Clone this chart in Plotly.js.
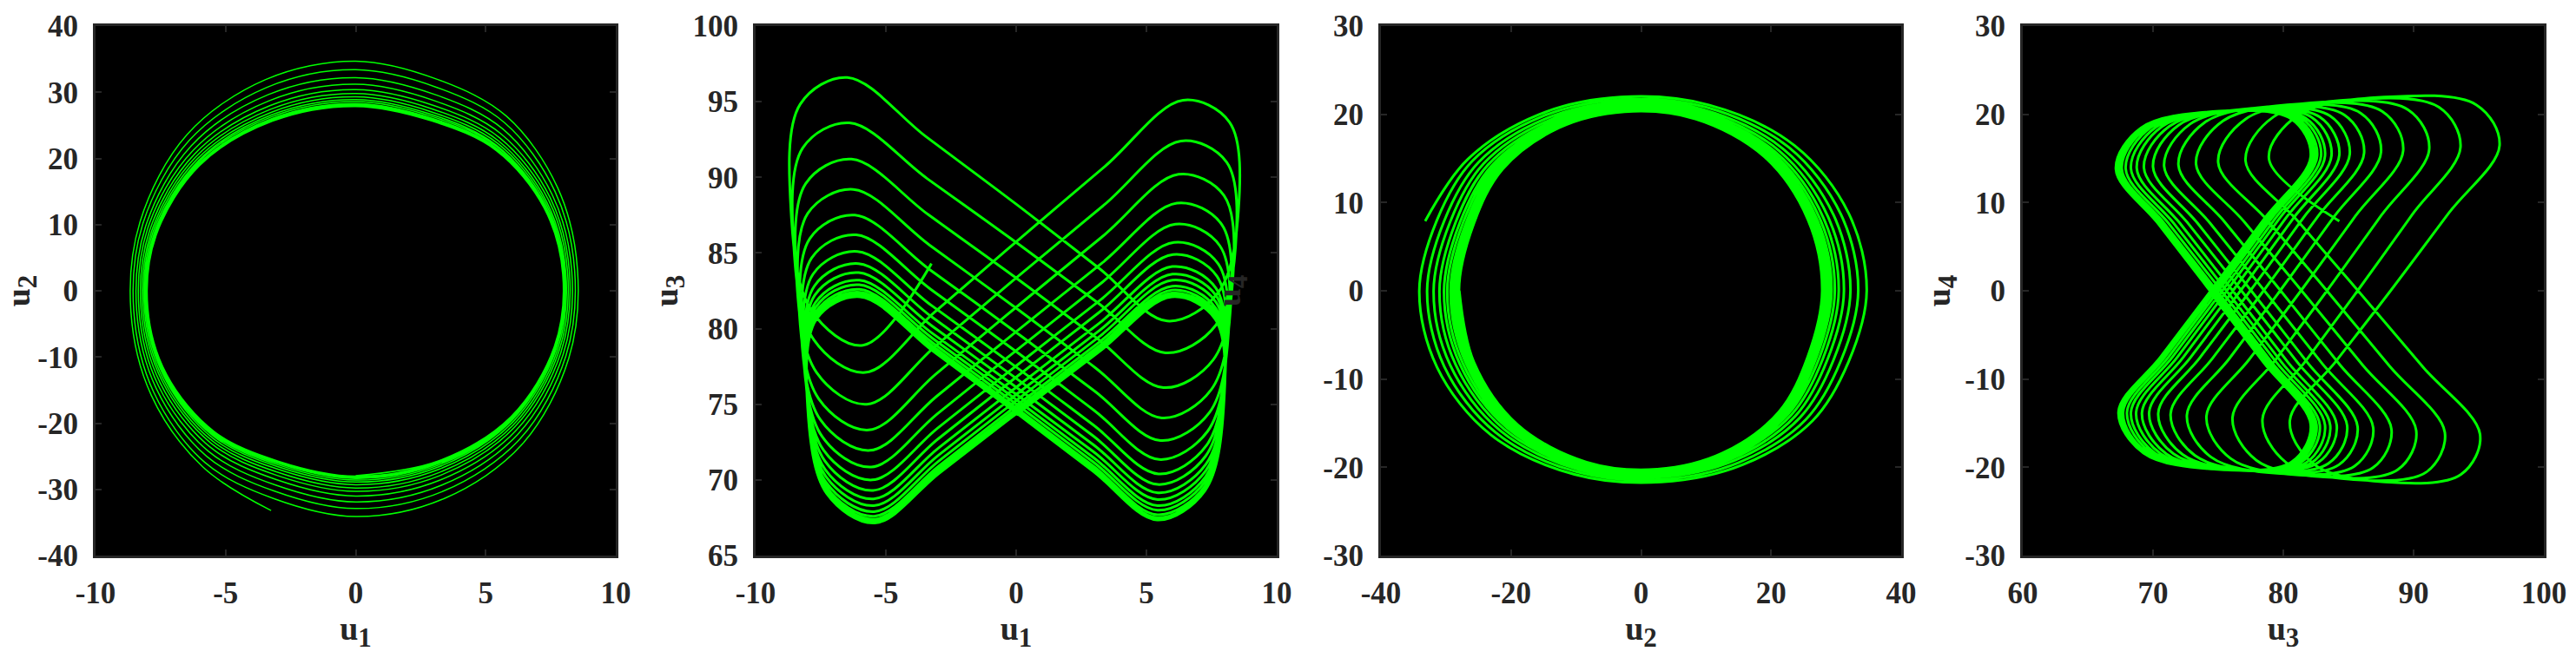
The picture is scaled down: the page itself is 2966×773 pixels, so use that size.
<!DOCTYPE html>
<html>
<head>
<meta charset="utf-8">
<script src="https://cdn.plot.ly/plotly-3.0.1.min.js"></script>
<style>
  html, body { margin: 0; padding: 0; background: #fff; }
  #chart { width: 2966px; height: 773px; }
</style>
</head>
<body>
<div id="chart"></div>
<script>
// trajectory samples read off the four phase portraits (same time order in every array,
// one row per half-turn of the orbit)
const u1 = [-3.25,
  -5.88, -7.86, -8.64, -8.29, -6.48, -3.46, 0, 3.16,
  5.80, 7.76, 8.53, 8.19, 6.40, 3.41, 0, -3.16,
  -5.80, -7.76, -8.53, -8.19, -6.40, -3.41, 0, 3.12,
  5.73, 7.66, 8.42, 8.08, 6.32, 3.37, 0, -3.12,
  -5.73, -7.66, -8.42, -8.08, -6.32, -3.37, 0, 3.07,
  5.65, 7.56, 8.31, 7.98, 6.23, 3.32, 0, -3.08,
  -5.66, -7.58, -8.33, -8.00, -6.25, -3.33, 0, 3.04,
  5.59, 7.48, 8.22, 7.89, 6.17, 3.29, 0, -3.05,
  -5.61, -7.51, -8.25, -7.92, -6.19, -3.30, 0, 3.02,
  5.54, 7.42, 8.15, 7.82, 6.11, 3.26, 0, -3.03,
  -5.56, -7.44, -8.18, -7.85, -6.14, -3.27, 0, 2.99,
  5.49, 7.35, 8.08, 7.76, 6.06, 3.23, 0, -3.00,
  -5.52, -7.39, -8.12, -7.80, -6.09, -3.25, 0, 2.97,
  5.46, 7.31, 8.03, 7.71, 6.02, 3.21, 0, -2.99,
  -5.49, -7.34, -8.07, -7.75, -6.05, -3.23, 0, 2.96,
  5.43, 7.27, 7.99, 7.67, 5.99, 3.20, 0, -2.98,
  -5.47, -7.33, -8.05, -7.73, -6.04, -3.22, 0, 2.96,
  5.44, 7.28, 8.00, 7.68, 6.00, 3.20, 0, -2.97,
  -5.46, -7.31, -8.03, -7.71, -6.02, -3.21, 0, 2.96,
  5.43, 7.27, 7.99, 7.67, 5.99, 3.20, 0, -2.97,
  -5.45, -7.30, -8.02, -7.70, -6.02, -3.21, 0, 2.95,
  5.43, 7.26, 7.98, 7.66, 5.99, 3.19, 0, -2.96,
  -5.45, -7.29, -8.01, -7.69, -6.01, -3.20, 0, 2.95,
  5.42, 7.25, 7.97, 7.65, 5.98, 3.19, 0, -2.96,
  -5.44, -7.28, -8.00, -7.68, -6.00, -3.20, 0, 2.95,
  5.42, 7.25, 7.97, 7.65, 5.98, 3.19, 0, -2.96,
  -5.44, -7.28, -8.00, -7.68, -6.00, -3.20, 0, 2.95,
  5.41, 7.24, 7.96, 7.64, 5.97, 3.18, 0, -2.96,
  -5.43, -7.27, -7.99, -7.67, -5.99, -3.20, 0, 2.95,
  5.41, 7.24, 7.96, 7.64, 5.97, 3.18, 0];

const u2 = [-33.2,
  -26.60, -15.75, -3.15, 10.41, 23.60, 31.92, 34.70, 31.92,
  26.37, 15.62, 3.12, -10.23, -23.19, -31.37, -34.10, -31.37,
  -25.92, -15.35, -3.07, 10.02, 22.71, 30.73, 33.40, 30.73,
  25.38, 15.03, 3.01, -9.87, -22.37, -30.27, -32.90, -30.27,
  -25.00, -14.81, -2.96, 9.66, 21.90, 29.62, 32.20, 29.62,
  24.47, 14.49, 2.90, -9.57, -21.69, -29.35, -31.90, -29.35,
  -24.24, -14.36, -2.87, 9.36, 21.22, 28.70, 31.20, 28.70,
  23.71, 14.04, 2.81, -9.30, -21.08, -28.52, -31.00, -28.52,
  -23.56, -13.95, -2.79, 9.12, 20.67, 27.97, 30.40, 27.97,
  23.10, 13.68, 2.74, -9.09, -20.60, -27.88, -30.30, -27.88,
  -23.03, -13.64, -2.73, 8.94, 20.26, 27.42, 29.80, 27.42,
  22.65, 13.41, 2.68, -8.94, -20.26, -27.42, -29.80, -27.42,
  -22.65, -13.41, -2.68, 8.79, 19.92, 26.96, 29.30, 26.96,
  22.27, 13.19, 2.64, -8.79, -19.92, -26.96, -29.30, -26.96,
  -22.27, -13.19, -2.64, 8.67, 19.65, 26.59, 28.90, 26.59,
  21.96, 13.01, 2.60, -8.67, -19.65, -26.59, -28.90, -26.59,
  -21.96, -13.01, -2.60, 8.58, 19.45, 26.31, 28.60, 26.31,
  21.74, 12.87, 2.57, -8.58, -19.45, -26.31, -28.60, -26.31,
  -21.74, -12.87, -2.57, 8.49, 19.24, 26.04, 28.30, 26.04,
  21.51, 12.74, 2.55, -8.51, -19.28, -26.08, -28.35, -26.08,
  -21.55, -12.76, -2.55, 8.43, 19.11, 25.85, 28.10, 25.85,
  21.36, 12.65, 2.53, -8.46, -19.18, -25.94, -28.20, -25.94,
  -21.43, -12.69, -2.54, 8.40, 19.04, 25.76, 28.00, 25.76,
  21.28, 12.60, 2.52, -8.43, -19.11, -25.85, -28.10, -25.85,
  -21.36, -12.65, -2.53, 8.39, 19.01, 25.71, 27.95, 25.71,
  21.24, 12.58, 2.52, -8.42, -19.07, -25.81, -28.05, -25.81,
  -21.32, -12.62, -2.52, 8.37, 18.97, 25.67, 27.90, 25.67,
  21.20, 12.56, 2.51, -8.40, -19.04, -25.76, -28.00, -25.76,
  -21.28, -12.60, -2.52, 8.36, 18.94, 25.62, 27.85, 25.62,
  21.17, 12.53, 2.51, -8.39, -19.01, -25.71, -27.95];

const u3 = [84.3,
  78.9, 81.2, 87.75, 94.83, 96.6, 92.69, 88.23, 84.02,
  80.5, 82.4, 87.8, 93.64, 95.1, 90.73, 85.74, 81.04,
  77.1, 79.25, 85.35, 91.95, 93.6, 89.91, 85.7, 81.73,
  78.4, 80.22, 85.4, 91.0, 92.4, 88.17, 83.35, 78.81,
  75.0, 77.1, 83.1, 89.58, 91.2, 87.53, 83.35, 79.41,
  76.1, 77.93, 83.15, 88.79, 90.2, 86.1, 81.41, 77.0,
  73.3, 75.37, 81.25, 87.61, 89.2, 85.53, 81.35, 77.41,
  74.1, 75.95, 81.2, 86.88, 88.3, 84.33, 79.8, 75.53,
  71.95, 73.97, 79.73, 85.95, 87.5, 83.88, 79.75, 75.86,
  72.6, 74.46, 79.75, 85.47, 86.9, 83.0, 78.55, 74.36,
  70.85, 72.85, 78.53, 84.67, 86.2, 82.59, 78.48, 74.6,
  71.35, 73.22, 78.53, 84.27, 85.7, 81.89, 77.54, 73.44,
  70.0, 71.96, 77.55, 83.59, 85.1, 81.53, 77.46, 73.62,
  70.4, 72.29, 77.65, 83.45, 84.9, 81.11, 76.79, 72.72,
  69.3, 71.25, 76.8, 82.8, 84.3, 80.76, 76.71, 72.9,
  69.7, 71.57, 76.9, 82.66, 84.1, 80.37, 76.12, 72.11,
  68.75, 70.69, 76.23, 82.21, 83.7, 80.16, 76.13, 72.33,
  69.15, 71.03, 76.38, 82.16, 83.6, 79.88, 75.64, 71.65,
  68.3, 70.24, 75.75, 81.71, 83.2, 79.68, 75.66, 71.87,
  68.7, 70.59, 75.95, 81.75, 83.2, 79.48, 75.24, 71.25,
  67.9, 69.85, 75.4, 81.4, 82.9, 79.36, 75.31, 71.5,
  68.3, 70.19, 75.55, 81.35, 82.8, 79.11, 74.9, 70.93,
  67.6, 69.55, 75.1, 81.1, 82.6, 79.06, 75.01, 71.2,
  68.0, 69.89, 75.28, 81.1, 82.55, 78.87, 74.67, 70.72,
  67.4, 69.35, 74.9, 80.9, 82.4, 78.83, 74.76, 70.92,
  67.7, 69.6, 75.03, 80.89, 82.35, 78.68, 74.5, 70.56,
  67.25, 69.2, 74.75, 80.75, 82.25, 78.67, 74.58, 70.73,
  67.5, 69.41, 74.85, 80.73, 82.2, 78.54, 74.37, 70.44,
  67.15, 69.09, 74.63, 80.61, 82.1, 78.52, 74.43, 70.58,
  67.35, 69.27, 74.73, 80.63, 82.1, 78.46, 74.3];

const u4 = [7.9,
  14.94, 19.96, 21.95, 21.06, 16.46, 8.79, 0, -8.03,
  -14.73, -19.71, -21.67, -20.80, -16.26, -8.66, 0, 8.03,
  14.73, 19.71, 21.67, 20.80, 16.26, 8.66, 0, -7.92,
  -14.55, -19.46, -21.39, -20.52, -16.05, -8.56, 0, 7.92,
  14.55, 19.46, 21.39, 20.52, 16.05, 8.56, 0, -7.80,
  -14.35, -19.20, -21.11, -20.27, -15.82, -8.43, 0, 7.82,
  14.38, 19.25, 21.16, 20.32, 15.88, 8.46, 0, -7.72,
  -14.20, -19.00, -20.88, -20.04, -15.67, -8.36, 0, 7.75,
  14.25, 19.08, 20.96, 20.12, 15.72, 8.38, 0, -7.67,
  -14.07, -18.85, -20.70, -19.86, -15.52, -8.28, 0, 7.70,
  14.12, 18.90, 20.78, 19.94, 15.60, 8.31, 0, -7.59,
  -13.94, -18.67, -20.52, -19.71, -15.39, -8.20, 0, 7.62,
  14.02, 18.77, 20.62, 19.81, 15.47, 8.26, 0, -7.54,
  -13.87, -18.57, -20.40, -19.58, -15.29, -8.15, 0, 7.59,
  13.94, 18.64, 20.50, 19.69, 15.37, 8.20, 0, -7.52,
  -13.79, -18.47, -20.29, -19.48, -15.21, -8.13, 0, 7.57,
  13.89, 18.62, 20.45, 19.63, 15.34, 8.18, 0, -7.52,
  -13.82, -18.49, -20.32, -19.51, -15.24, -8.13, 0, 7.54,
  13.87, 18.57, 20.40, 19.58, 15.29, 8.15, 0, -7.52,
  -13.79, -18.47, -20.29, -19.48, -15.21, -8.13, 0, 7.54,
  13.84, 18.54, 20.37, 19.56, 15.29, 8.15, 0, -7.49,
  -13.79, -18.44, -20.27, -19.46, -15.21, -8.10, 0, 7.52,
  13.84, 18.52, 20.35, 19.53, 15.27, 8.13, 0, -7.49,
  -13.77, -18.42, -20.24, -19.43, -15.19, -8.10, 0, 7.52,
  13.82, 18.49, 20.32, 19.51, 15.24, 8.13, 0, -7.49,
  -13.77, -18.42, -20.24, -19.43, -15.19, -8.10, 0, 7.52,
  13.82, 18.49, 20.32, 19.51, 15.24, 8.13, 0, -7.49,
  -13.74, -18.39, -20.22, -19.41, -15.16, -8.08, 0, 7.52,
  13.79, 18.47, 20.29, 19.48, 15.21, 8.13, 0, -7.49,
  -13.74, -18.39, -20.22, -19.41, -15.16, -8.08, 0];

// axis ticks for each panel
const ticksU1 = [-10, -5, 0, 5, 10];
const ticksU2x = [-40, -20, 0, 20, 40];
const ticksU2y = [-40, -30, -20, -10, 0, 10, 20, 30, 40];
const ticksU3x = [60, 70, 80, 90, 100];
const ticksU3y = [65, 70, 75, 80, 85, 90, 95, 100];
const ticksU4 = [-30, -20, -10, 0, 10, 20, 30];

const W = 2966, H = 773;
const FONT = 'Liberation Serif, Times New Roman, serif';
const INK = '#262626';
const GREEN = '#00ff00';

function axis(ticks, title, domain, standoff) {
    return {
        domain: domain,
        range: [ticks[0], ticks[ticks.length - 1]],
        tickmode: 'array', tickvals: ticks,
        ticktext: ticks.map(v => '<b>' + v + '</b>'),
        showline: true, linecolor: INK, linewidth: 3, mirror: 'ticks',
        ticks: 'inside', ticklen: 7, tickwidth: 2, tickcolor: INK,
        showgrid: false, zeroline: false, fixedrange: true,
        tickfont: { family: FONT, size: 35, color: INK, weight: 'bold' },
        ticklabelstandoff: 10,
        title: { text: title, standoff: standoff,
                 font: { family: FONT, size: 38, color: INK, weight: 'bold' } }
    };
}

const xd = (a, b) => [a / W, b / W];
const yDom = [1 - 640 / H, 1 - 30 / H];

function trace(x, y, n, width) {
    return { x: x, y: y, xaxis: 'x' + n, yaxis: 'y' + n, type: 'scatter', mode: 'lines',
             line: { color: GREEN, width: width, shape: 'spline' }, hoverinfo: 'skip' };
}

const traces = [
    trace(u1, u2, '', 1.5),
    trace(u1, u3, '2', 3),
    trace(u2, u4, '3', 3),
    trace(u3, u4, '4', 3)
];

const sub = s => '<b>u<sub><span style="font-size:31px">' + s + '</span></sub></b>';

const layout = {
    width: W, height: H, showlegend: false,
    paper_bgcolor: '#ffffff', plot_bgcolor: '#000000',
    margin: { l: 0, r: 0, t: 0, b: 0 },
    xaxis:  Object.assign(axis(ticksU1, sub('1'), xd(110, 709), 4), { anchor: 'y' }),
    yaxis:  Object.assign(axis(ticksU2y, sub('2'), yDom, 6), { anchor: 'x' }),
    xaxis2: Object.assign(axis(ticksU1, sub('1'), xd(870, 1470), 4), { anchor: 'y2' }),
    yaxis2: Object.assign(axis(ticksU3y, sub('3'), yDom, 6), { anchor: 'x2' }),
    xaxis3: Object.assign(axis(ticksU2x, sub('2'), xd(1590, 2189), 4), { anchor: 'y3' }),
    yaxis3: Object.assign(axis(ticksU4, sub('4'), yDom, 84), { anchor: 'x3' }),
    xaxis4: Object.assign(axis(ticksU3x, sub('3'), xd(2329, 2929), 4), { anchor: 'y4' }),
    yaxis4: Object.assign(axis(ticksU4, sub('4'), yDom, 6), { anchor: 'x4' })
};

Plotly.newPlot('chart', traces, layout, { displayModeBar: false, staticPlot: true });
</script>
</body>
</html>
